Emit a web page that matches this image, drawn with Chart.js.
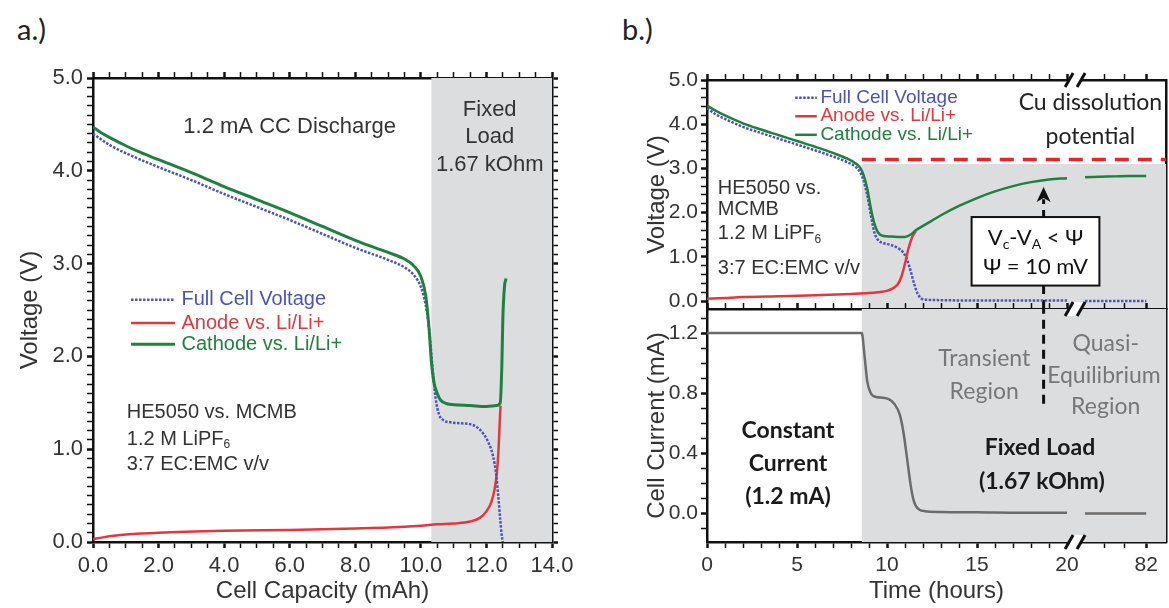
<!DOCTYPE html>
<html>
<head>
<meta charset="utf-8">
<script src="https://cdn.jsdelivr.net/npm/chart.js@4.4.1/dist/chart.umd.min.js"></script>
<style>
  body { margin: 0; background: #fff; }
  #fig { position: relative; width: 1169px; height: 608px; overflow: hidden; background: #fff; }
  #fig canvas { position: absolute; }
  .tag { position: absolute; font-family: Lato, sans-serif; font-size: 29px; color: #222; line-height: 1; }
</style>
</head>
<body>
<div id="fig">
  <div class="tag" style="left:17px; top:14px">a.)</div>
  <div class="tag" style="left:622px; top:14px">b.)</div>
  <canvas id="capChart" width="590" height="608" style="left:0; top:0"></canvas>
  <canvas id="voltChart" width="579" height="330" style="left:590px; top:0"></canvas>
  <canvas id="currChart" width="579" height="308" style="left:590px; top:300px"></canvas>
</div>
<script>
// ---- (a) potentials vs. discharged capacity ----
const capFull     = [0, 0.5, 1.0, 2.0, 3.0, 4.0, 5.0, 6.0, 7.0, 8.0, 9.0, 9.5, 9.8, 10.0, 10.15, 10.25, 10.35, 10.45, 10.55, 10.7, 10.9, 11.2, 11.5, 11.7, 11.9, 12.05, 12.2, 12.3, 12.36, 12.42, 12.47, 12.5];
const voltFull    = [4.40, 4.28, 4.19, 4.04, 3.90, 3.75, 3.61, 3.47, 3.32, 3.17, 3.04, 2.96, 2.87, 2.75, 2.55, 2.30, 1.90, 1.55, 1.38, 1.31, 1.29, 1.28, 1.27, 1.24, 1.17, 1.08, 0.93, 0.72, 0.50, 0.25, 0.06, 0.0];
const capAnode    = [0, 0.3, 0.7, 1.0, 2.0, 4.0, 6.0, 8.0, 9.0, 10.0, 10.5, 11.0, 11.5, 11.8, 12.0, 12.15, 12.25, 12.32, 12.37, 12.4, 12.43];
const voltAnode   = [0.03, 0.05, 0.07, 0.08, 0.10, 0.12, 0.13, 0.145, 0.155, 0.175, 0.19, 0.20, 0.22, 0.26, 0.33, 0.43, 0.57, 0.75, 1.0, 1.25, 1.47];
const capCathode  = [0, 0.25, 0.5, 1.0, 1.5, 2.0, 3.0, 4.0, 5.0, 6.0, 7.0, 8.0, 9.0, 9.5, 9.8, 10.0, 10.15, 10.25, 10.32, 10.4, 10.5, 10.6, 10.8, 11.0, 11.5, 12.0, 12.3, 12.42, 12.47, 12.5, 12.55, 12.6];
const voltCathode = [4.47, 4.41, 4.36, 4.27, 4.19, 4.12, 3.98, 3.83, 3.69, 3.55, 3.40, 3.25, 3.12, 3.05, 2.97, 2.86, 2.65, 2.30, 1.95, 1.72, 1.60, 1.53, 1.49, 1.48, 1.47, 1.46, 1.47, 1.50, 1.90, 2.40, 2.75, 2.84];
const capTicks    = [0, 2, 4, 6, 8, 10, 12, 14];
const voltTicks   = [0, 1, 2, 3, 4, 5];
const fixedLoadCap = 10.32;

// ---- (b) potentials and current vs. time ----
const hoursFull    = [0, 0.5, 1, 2, 3, 4, 5, 6, 7, 7.8, 8.2, 8.5, 8.7, 8.9, 9.1, 9.3, 9.5, 9.8, 10.2, 10.6, 10.9, 11.1, 11.3, 11.5, 11.7, 11.9, 12.2, 13, 15, 20];
const voltFullB    = [4.36, 4.22, 4.12, 3.94, 3.80, 3.67, 3.54, 3.41, 3.27, 3.14, 3.05, 2.92, 2.72, 2.40, 1.95, 1.55, 1.38, 1.31, 1.27, 1.20, 1.10, 0.95, 0.70, 0.40, 0.17, 0.06, 0.03, 0.02, 0.01, 0.01];
const hoursAnode   = [0, 1, 2, 4, 6, 8, 9, 9.5, 10, 10.3, 10.6, 10.8, 11.0, 11.2, 11.4, 11.6];
const voltAnodeB   = [0.05, 0.07, 0.09, 0.11, 0.13, 0.16, 0.18, 0.20, 0.23, 0.28, 0.38, 0.55, 0.85, 1.20, 1.45, 1.58];
const hoursCathode = [0, 0.5, 1, 2, 3, 4, 5, 6, 7, 7.8, 8.2, 8.5, 8.7, 8.9, 9.1, 9.3, 9.5, 9.8, 10.2, 10.7, 11.0, 11.3, 11.6, 12, 12.5, 13, 14, 15, 16, 17, 18, 19, 20];
const voltCathodeB = [4.42, 4.30, 4.20, 4.02, 3.88, 3.75, 3.62, 3.49, 3.35, 3.22, 3.13, 3.02, 2.85, 2.55, 2.10, 1.75, 1.55, 1.47, 1.46, 1.45, 1.45, 1.50, 1.60, 1.70, 1.82, 1.94, 2.15, 2.33, 2.48, 2.60, 2.69, 2.75, 2.78];
const hoursCurrent = [0, 8.6, 8.75, 8.9, 9.1, 9.4, 9.8, 10.1, 10.4, 10.7, 10.9, 11.1, 11.3, 11.45, 11.6, 11.8, 12.1, 13, 15, 17.5, 20];
const cellCurrent  = [1.2, 1.2, 1.05, 0.88, 0.80, 0.775, 0.77, 0.76, 0.73, 0.66, 0.55, 0.38, 0.20, 0.10, 0.05, 0.025, 0.015, 0.01, 0.008, 0.005, 0.005];
// hours after the axis break (20 h .. 82 h)
const lateHours    = [20, 35, 50, 65, 82];
const lateFull     = [0.0, 0.0, 0.0, 0.0, 0.0];
const lateCathode  = [2.80, 2.81, 2.82, 2.83, 2.83];
const lateCurrent  = [0.0, 0.0, 0.0, 0.0, 0.0];
const timeTickLabels = [0, 5, 10, 15, 20, 82];
const currentTicks = [0, 0.4, 0.8, 1.2];
const fixedLoadHour = 8.6;
const cuPotential = 3.2;
const equilibriumHour = 18.7;

// broken time axis: linear up to 20 h, then 20..82 h squeezed into a short stretch
const BREAK_HOUR = 20, LAST_HOUR = 82, BREAK_GAP = 1, LATE_SPAN = 3.4;
const TIME_MAX = 25.5;
function lateAxis(h) { return BREAK_HOUR + BREAK_GAP + (h - BREAK_HOUR) * LATE_SPAN / (LAST_HOUR - BREAK_HOUR); }

const pts = (xs, ys) => xs.map((x, i) => ({ x, y: ys[i] }));
const withLate = (xs, ys, late) => [...pts(xs, ys), { x: BREAK_HOUR + 0.5, y: null }, ...lateHours.map((h, i) => ({ x: lateAxis(h), y: late[i] }))];
const steps = (from, to, step) => { const out = []; for (let v = from; v <= to + 1e-9; v += step) out.push(+v.toFixed(3)); return out; };

const ARIAL = "'Liberation Sans', Arial, sans-serif";
const CALIBRI = "Lato, sans-serif";
const BLUE = '#4b53b8', RED = '#e2383d', GREEN = '#1f8040', GREY_LINE = '#6b6b6b';

// tick positions on the time axis (major = labelled)
const timeMajors = timeTickLabels.map(h => (h > BREAK_HOUR ? lateAxis(h) : h));
const timeAll = [...steps(0, 20, 1), lateAxis(40), lateAxis(60), lateAxis(82)];

// axis that draws the frame edge plus outward tick marks; minor ticks are thinner
function tickAxis(values, majors, extra) {
  return {
    type: 'linear',
    afterBuildTicks: s => { s.ticks = values.map(v => ({ value: v })); },
    grid: {
      display: true, drawOnChartArea: false, drawTicks: true, tickLength: 6, tickColor: '#111',
      tickWidth: c => (c.tick && majors.includes(c.tick.value) ? 2.5 : 1.5)
    },
    border: { display: true, color: '#111', width: 2.5 },
    ...extra
  };
}
// vertical axes: fixed width, and no extra room for the end labels so the plot edges stay put
const fixedWidth = w => s => { s.width = w; s.paddingTop = 0; s.paddingBottom = 0; };

// unlabelled axis on the opposite edge
function edgeAxis(position, values, majors, min, max) {
  const horiz = position === 'top' || position === 'bottom';
  return tickAxis(values, majors, {
    position, min, max,
    afterFit: s => { if (horiz) { s.height = 0; s.paddingLeft = 0; s.paddingRight = 0; } else { s.width = 0; s.paddingTop = 0; s.paddingBottom = 0; } },
    ticks: { display: false }
  });
}
function plainEdge(position, min, max) {
  return {
    type: 'linear', position, min, max,
    grid: { display: false, drawTicks: false },
    border: { display: true, color: '#111', width: 2.5 },
    ticks: { display: false },
    afterFit: s => { s.width = 0; s.paddingTop = 0; s.paddingBottom = 0; }
  };
}

function drawParts(ctx, parts, x, y, size, family, weight, color, align) {
  const fontOf = sub => `${weight} ${sub ? Math.round(size * 0.62) : size}px ${family}`;
  let w = 0;
  for (const [t, sub] of parts) { ctx.font = fontOf(sub); w += ctx.measureText(t).width; }
  let cx = align === 'left' ? x : align === 'right' ? x - w : x - w / 2;
  ctx.fillStyle = color; ctx.textAlign = 'left'; ctx.textBaseline = 'middle';
  for (const [t, sub] of parts) {
    ctx.font = fontOf(sub);
    ctx.fillText(t, cx, sub ? y + size * 0.3 : y);
    cx += ctx.measureText(t).width;
  }
}

function drawAnnotations(chart, cfg) {
  const { ctx, scales: { x, y } } = chart;
  ctx.save();
  if (cfg.arrow) {
    const px = x.getPixelForValue(cfg.arrow.x), tip = y.getPixelForValue(cfg.arrow.tip);
    ctx.fillStyle = '#111';
    ctx.beginPath();
    ctx.moveTo(px, tip); ctx.lineTo(px - 7, tip + 15); ctx.lineTo(px, tip + 11); ctx.lineTo(px + 7, tip + 15);
    ctx.closePath(); ctx.fill();
  }
  if (cfg.box) {
    const b = cfg.box;
    const l = x.getPixelForValue(b.x0), r = x.getPixelForValue(b.x1);
    const t = y.getPixelForValue(b.y1), btm = y.getPixelForValue(b.y0);
    ctx.fillStyle = '#fff'; ctx.fillRect(l, t, r - l, btm - t);
    ctx.strokeStyle = '#111'; ctx.lineWidth = 2; ctx.strokeRect(l, t, r - l, btm - t);
    b.lines.forEach(line => drawParts(ctx, line.parts, (l + r) / 2, y.getPixelForValue(line.y), b.size, CALIBRI, 'normal', '#111', 'center'));
  }
  (cfg.notes || []).forEach(n => {
    const parts = n.parts || [[n.text]];
    drawParts(ctx, parts, x.getPixelForValue(n.x), y.getPixelForValue(n.y), n.size, n.family || ARIAL,
      n.weight || 'normal', n.color || '#333', n.align || 'center');
  });
  if (cfg.legend) {
    const lg = cfg.legend;
    const x0 = x.getPixelForValue(lg.x0), x1 = x.getPixelForValue(lg.x1), xt = x.getPixelForValue(lg.xText);
    lg.labels.forEach((label, i) => {
      const ds = chart.data.datasets.find(d => d.label === label);
      const py = y.getPixelForValue(lg.rows[i]);
      ctx.strokeStyle = ds.borderColor; ctx.lineWidth = ds.borderWidth;
      ctx.setLineDash(ds.borderDash || []);
      ctx.beginPath(); ctx.moveTo(x0, py); ctx.lineTo(x1, py); ctx.stroke();
      ctx.setLineDash([]);
      drawParts(ctx, [[label]], xt, py, lg.size, ARIAL, 'normal', ds.borderColor, 'left');
    });
  }
  ctx.restore();
}

function drawBreaks(chart, breaks) {
  const { ctx, chartArea: a, scales: { x } } = chart;
  ctx.save();
  breaks.forEach(br => {
    const px = x.getPixelForValue(br.x);
    const py = br.edge === 'top' ? a.top : a.bottom;
    ctx.fillStyle = '#fff';
    ctx.beginPath();
    ctx.moveTo(px - 10, py + 7); ctx.lineTo(px - 2, py - 7); ctx.lineTo(px + 10, py - 7); ctx.lineTo(px + 2, py + 7);
    ctx.closePath(); ctx.fill();
    ctx.strokeStyle = '#111'; ctx.lineWidth = 3;
    [-6, 6].forEach(o => {
      ctx.beginPath(); ctx.moveTo(px + o - 4, py + 7); ctx.lineTo(px + o + 4, py - 7); ctx.stroke();
    });
  });
  ctx.restore();
}

// per-chart extras: shading under the data, notes and axis breaks on top
function figure(cfg) {
  return {
    id: 'figure',
    beforeDatasetsDraw(chart) {
      const { ctx, chartArea: a, scales: { x, y } } = chart;
      const x0 = x.getPixelForValue(cfg.shade.from);
      const yTop = cfg.shade.top == null ? a.top : y.getPixelForValue(cfg.shade.top);
      ctx.save();
      ctx.fillStyle = '#dcdddf';
      ctx.fillRect(x0, yTop, a.right - x0, a.bottom - yTop);
      ctx.restore();
    },
    afterDraw(chart) {
      drawAnnotations(chart, cfg);
      drawBreaks(chart, cfg.breaks || []);
    }
  };
}

const baseOptions = (padding) => ({
  responsive: false, animation: false, devicePixelRatio: 1,
  layout: { padding },
  elements: { point: { radius: 0 }, line: { cubicInterpolationMode: 'monotone' } },
  plugins: { legend: { display: false }, tooltip: { enabled: false } }
});

// ---------- panel a ----------
const capAll = steps(0, 14, 0.5), voltAll = steps(0, 5, 0.1);
new Chart(document.getElementById('capChart'), {
  type: 'line',
  data: {
    datasets: [
      { label: 'Cathode vs. Li/Li+', data: pts(capCathode, voltCathode), borderColor: GREEN, borderWidth: 3 },
      { label: 'Full Cell Voltage', data: pts(capFull, voltFull), borderColor: BLUE, borderWidth: 2.5, borderDash: [2.5, 1.5] },
      { label: 'Anode vs. Li/Li+', data: pts(capAnode, voltAnode), borderColor: RED, borderWidth: 2.5 }
    ]
  },
  options: {
    ...baseOptions({ left: 12, top: 78, right: 38, bottom: 0 }),
    scales: {
      x: tickAxis(capAll, capTicks, {
        position: 'bottom', min: 0, max: 14,
        afterFit: s => { s.height = 66; },
        ticks: { callback: v => (capTicks.includes(v) ? v.toFixed(1) : ''), font: { family: ARIAL, size: 22 }, color: '#333', padding: 5, maxRotation: 0, autoSkip: false },
        title: { display: true, text: 'Cell Capacity (mAh)', font: { family: ARIAL, size: 24 }, color: '#333', padding: { top: 0, bottom: 2 } }
      }),
      y: tickAxis(voltAll, voltTicks, {
        position: 'left', min: 0, max: 5,
        afterFit: fixedWidth(81),
        ticks: { callback: v => (voltTicks.includes(v) ? v.toFixed(1) : ''), font: { family: ARIAL, size: 22 }, color: '#333', padding: 4, autoSkip: false },
        title: { display: true, text: 'Voltage (V)', font: { family: ARIAL, size: 24 }, color: '#333', padding: { top: 4, bottom: 0 } }
      }),
      xTop: edgeAxis('top', capAll, capTicks, 0, 14),
      yRight: edgeAxis('right', voltAll, voltTicks, 0, 5)
    }
  },
  plugins: [figure({
    shade: { from: fixedLoadCap },
    notes: [
      { x: 6.0, y: 4.47, text: '1.2 mA CC Discharge', size: 22 },
      { x: 12.1, y: 4.66, text: 'Fixed', size: 22 },
      { x: 12.1, y: 4.36, text: 'Load', size: 22 },
      { x: 12.1, y: 4.06, text: '1.67 kOhm', size: 22 },
      { x: 1.03, y: 1.40, text: 'HE5050 vs. MCMB', size: 20, align: 'left' },
      { x: 1.03, y: 1.11, parts: [['1.2 M LiPF'], ['6', true]], size: 20, align: 'left' },
      { x: 1.03, y: 0.83, text: '3:7 EC:EMC v/v', size: 20, align: 'left' }
    ],
    legend: { x0: 1.16, x1: 2.5, xText: 2.7, rows: [2.61, 2.36, 2.13], size: 20,
              labels: ['Full Cell Voltage', 'Anode vs. Li/Li+', 'Cathode vs. Li/Li+'] }
  })]
});

// ---------- panel b, upper: electrode potentials ----------
const psi = [['V'], ['c', true], ['-V'], ['A', true], [' < Ψ']];
const voltAllB = steps(0, 5, 0.2);
new Chart(document.getElementById('voltChart'), {
  type: 'line',
  data: {
    datasets: [
      { label: 'Cathode vs. Li/Li+', data: withLate(hoursCathode, voltCathodeB, lateCathode), borderColor: GREEN, borderWidth: 2.5 },
      { label: 'Anode vs. Li/Li+', data: pts(hoursAnode, voltAnodeB), borderColor: RED, borderWidth: 2.5 },
      { label: 'Full Cell Voltage', data: withLate(hoursFull, voltFullB, lateFull), borderColor: BLUE, borderWidth: 2.5, borderDash: [2.5, 1.5] },
      { label: 'Cu dissolution potential', data: [{ x: fixedLoadHour, y: cuPotential }, { x: TIME_MAX, y: cuPotential }], borderColor: '#e8262a', borderWidth: 3.5, borderDash: [14, 9], tension: 0 },
      { label: 'equilibrium marker', data: [{ x: equilibriumHour, y: -0.18 }, { x: equilibriumHour, y: 2.3 }], borderColor: '#111', borderWidth: 3, borderDash: [9, 6], tension: 0, cubicInterpolationMode: 'default' }
    ]
  },
  options: {
    ...baseOptions({ left: 49, top: 80, right: 3, bottom: 21 }),
    scales: {
      x: { type: 'linear', min: 0, max: TIME_MAX, display: false },
      y: tickAxis(voltAllB, voltTicks, {
        position: 'left', min: -0.18, max: 5,
        afterFit: fixedWidth(68),
        ticks: { callback: v => (voltTicks.includes(v) ? v.toFixed(1) : ''), font: { family: ARIAL, size: 21 }, color: '#333', padding: 3, autoSkip: false },
        title: { display: true, text: 'Voltage (V)', font: { family: ARIAL, size: 24 }, color: '#333', padding: { top: 4, bottom: 0 } }
      }),
      xTop: edgeAxis('top', timeAll, timeMajors, 0, TIME_MAX),
      yRight: plainEdge('right', -0.18, 5)
    }
  },
  plugins: [figure({
    shade: { from: fixedLoadHour, top: 3.1 },
    breaks: [{ x: 20.45, edge: 'top' }],
    arrow: { x: equilibriumHour, tip: 2.58 },
    box: { x0: 14.7, x1: 21.8, y0: 0.35, y1: 1.9, size: 22,
           lines: [{ y: 1.42, parts: psi }, { y: 0.78, parts: [['Ψ = 10 mV']] }] },
    notes: [
      { x: 21.3, y: 4.48, text: 'Cu dissolution', size: 23, family: CALIBRI, color: '#222' },
      { x: 21.3, y: 3.72, text: 'potential', size: 23, family: CALIBRI, color: '#222' },
      { x: 0.6, y: 2.55, text: 'HE5050 vs.', size: 20, align: 'left' },
      { x: 0.6, y: 2.08, text: 'MCMB', size: 20, align: 'left' },
      { x: 0.6, y: 1.53, parts: [['1.2 M LiPF'], ['6', true]], size: 20, align: 'left' },
      { x: 0.6, y: 0.74, text: '3:7 EC:EMC v/v', size: 20, align: 'left' }
    ],
    legend: { x0: 4.9, x1: 6.1, xText: 6.3, rows: [4.6, 4.18, 3.76], size: 19,
              labels: ['Full Cell Voltage', 'Anode vs. Li/Li+', 'Cathode vs. Li/Li+'] }
  })]
});

// ---------- panel b, lower: cell current ----------
const currAll = steps(-0.1, 1.3, 0.1);
new Chart(document.getElementById('currChart'), {
  type: 'line',
  data: {
    datasets: [
      { label: 'Cell Current', data: withLate(hoursCurrent, cellCurrent, lateCurrent), borderColor: GREY_LINE, borderWidth: 2.5 },
      { label: 'equilibrium marker', data: [{ x: equilibriumHour, y: 0.73 }, { x: equilibriumHour, y: 1.36 }], borderColor: '#111', borderWidth: 3, borderDash: [9, 6], tension: 0, cubicInterpolationMode: 'default' }
    ]
  },
  options: {
    ...baseOptions({ left: 49, top: 9, right: 3, bottom: 0 }),
    scales: {
      x: tickAxis(timeAll, timeMajors, {
        position: 'bottom', min: 0, max: TIME_MAX,
        afterFit: s => { s.height = 66; },
        ticks: { callback: v => { const i = timeMajors.indexOf(v); return i < 0 ? '' : String(timeTickLabels[i]); },
                 font: { family: ARIAL, size: 21 }, color: '#333', padding: 5, maxRotation: 0, autoSkip: false },
        title: { display: true, text: 'Time (hours)', font: { family: ARIAL, size: 24 }, color: '#333', padding: { top: 0, bottom: 2 } }
      }),
      y: tickAxis(currAll, currentTicks, {
        position: 'left', min: -0.19, max: 1.36,
        afterFit: fixedWidth(68),
        ticks: { callback: v => (currentTicks.includes(v) ? v.toFixed(1) : ''), font: { family: ARIAL, size: 21 }, color: '#333', padding: 3, autoSkip: false },
        title: { display: true, text: 'Cell Current (mA)', font: { family: ARIAL, size: 24 }, color: '#333', padding: { top: 4, bottom: 0 } }
      }),
      xTop: edgeAxis('top', timeAll, timeMajors, 0, TIME_MAX),
      yRight: plainEdge('right', -0.19, 1.36)
    }
  },
  plugins: [figure({
    shade: { from: fixedLoadHour },
    breaks: [{ x: 20.45, edge: 'top' }, { x: 20.45, edge: 'bottom' }],
    notes: [
      { x: 4.5, y: 0.55, text: 'Constant', size: 23, family: CALIBRI, weight: 'bold', color: '#1a1a1a' },
      { x: 4.5, y: 0.33, text: 'Current', size: 23, family: CALIBRI, weight: 'bold', color: '#1a1a1a' },
      { x: 4.5, y: 0.11, text: '(1.2 mA)', size: 23, family: CALIBRI, weight: 'bold', color: '#1a1a1a' },
      { x: 18.5, y: 0.435, text: 'Fixed Load', size: 23, family: CALIBRI, weight: 'bold', color: '#1a1a1a' },
      { x: 18.6, y: 0.21, text: '(1.67 kOhm)', size: 23, family: CALIBRI, weight: 'bold', color: '#1a1a1a' },
      { x: 15.4, y: 1.03, text: 'Transient', size: 23, family: CALIBRI, color: '#777' },
      { x: 15.4, y: 0.81, text: 'Region', size: 23, family: CALIBRI, color: '#777' },
      { x: 22.15, y: 1.13, text: 'Quasi-', size: 23, family: CALIBRI, color: '#777' },
      { x: 22.05, y: 0.92, text: 'Equilibrium', size: 23, family: CALIBRI, color: '#777' },
      { x: 22.15, y: 0.71, text: 'Region', size: 23, family: CALIBRI, color: '#777' }
    ]
  })]
});
</script>
</body>
</html>
